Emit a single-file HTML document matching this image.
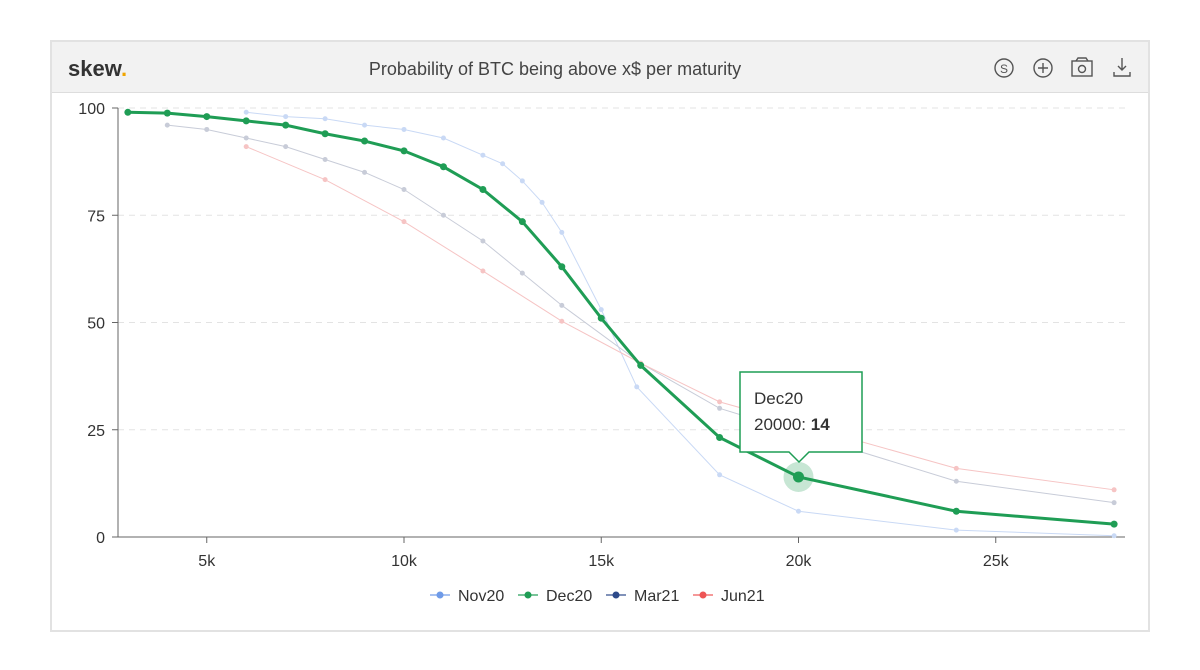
<!DOCTYPE html>
<html><head><meta charset="utf-8"><style>
body{margin:0;background:#fff;width:1200px;height:670px;overflow:hidden;font-family:"Liberation Sans",sans-serif;}
#panel{position:absolute;left:50px;top:40px;width:1096px;height:588px;border:2px solid #e2e2e2;background:#fff;}
#hdr{position:absolute;left:0;top:0;width:1096px;height:50px;background:#f2f2f2;border-bottom:1px solid #ddd;}
</style></head><body>
<div id="panel"><div id="hdr"></div></div>
<svg id="s" width="1200" height="670" style="position:absolute;left:0;top:0" font-family="Liberation Sans, sans-serif">
<text x="68" y="76" font-size="22" font-weight="bold" fill="#333">skew<tspan fill="#f0a500">.</tspan></text>
<text x="555" y="75" font-size="18" fill="#444" text-anchor="middle">Probability of BTC being above x$ per maturity</text>
<g fill="none" stroke="#555" stroke-width="1.4">
<circle cx="1004" cy="68" r="9"/><text x="1004" y="73" font-size="12" text-anchor="middle" fill="#555" stroke="none">S</text>
<circle cx="1043" cy="68" r="9"/><path d="M1038 68h10M1043 63v10"/>
<rect x="1072" y="61" width="20" height="15"/><circle cx="1082" cy="69" r="3.5"/><path d="M1076 61l2-3h8l2 3"/>
<path d="M1122 58v12M1118 66l4 4 4-4M1114 72v4h16v-4"/>
</g>
<g id="grid"></g><g id="series"></g>
</svg>
<script>
const NS="http://www.w3.org/2000/svg",s=document.getElementById('s');
const X=k=>9.5+39.45*k, Y=v=>537-v*4.29;
function el(t,a,p){const e=document.createElementNS(NS,t);for(const k in a)e.setAttribute(k,a[k]);(p||s).appendChild(e);return e;}
const g=document.getElementById('grid');
[0,25,50,75,100].forEach(v=>{
 if(v>0)el('line',{x1:118,x2:1125,y1:Y(v),y2:Y(v),stroke:'#e3e3e3','stroke-dasharray':'6,5'},g);
 el('line',{x1:112,x2:118,y1:Y(v),y2:Y(v),stroke:'#666'},g);
 const t=el('text',{x:105,y:Y(v)+6,'font-size':16,'text-anchor':'end',fill:'#333'},g);t.textContent=v;});
el('line',{x1:118,x2:118,y1:Y(100),y2:537,stroke:'#666'},g);
el('line',{x1:118,x2:1125,y1:537,y2:537,stroke:'#666'},g);
[5,10,15,20,25].forEach(k=>{el('line',{x1:X(k),x2:X(k),y1:537,y2:543,stroke:'#666'},g);
 const t=el('text',{x:X(k),y:566,'font-size':16,'text-anchor':'middle',fill:'#333'},g);t.textContent=k+'k';});
const S=document.getElementById('series');
const data=[
 ['#c9d9f5',1,[[6,99],[7,98],[8,97.5],[9,96],[10,95],[11,93],[12,89],[12.5,87],[13,83],[13.5,78],[14,71],[15,53],[15.9,35],[18,14.5],[20,6],[24,1.6],[28,0.3]]],
 ['#c8ccd8',1,[[4,96],[5,95],[6,93],[7,91],[8,88],[9,85],[10,81],[11,75],[12,69],[13,61.5],[14,54],[16,40.5],[18,30],[24,13],[28,8]]],
 ['#f6c4c4',1,[[6,91],[8,83.3],[10,73.5],[12,62],[14,50.3],[16,40.5],[18,31.5],[24,16],[28,11]]],
 ['#1f9d55',3,[[3,99],[4,98.8],[5,98],[6,97],[7,96],[8,94],[9,92.3],[10,90],[11,86.3],[12,81],[13,73.5],[14,63],[15,51],[16,40],[18,23.2],[20,14],[24,6],[28,3]]]];
data.forEach(([c,w,p])=>{
 el('polyline',{points:p.map(q=>X(q[0])+','+Y(q[1])).join(' '),fill:'none',stroke:c,'stroke-width':w},S);
 p.forEach(q=>el('circle',{cx:X(q[0]),cy:Y(q[1]),r:w>1?3.5:2.5,fill:c},S));});
el('circle',{cx:X(20),cy:Y(14),r:15,fill:'#1f9d55','fill-opacity':0.25},S);
el('circle',{cx:X(20),cy:Y(14),r:5.5,fill:'#1f9d55'},S);
el('path',{d:'M740 372h122v80h-53l-10 10-10-10h-49z',fill:'#fff',stroke:'#1f9d55','stroke-width':1.5},S);
let t=el('text',{x:754,y:404,'font-size':17,fill:'#333'},S);t.textContent='Dec20';
t=el('text',{x:754,y:430,'font-size':17,fill:'#333'},S);t.innerHTML='20000: <tspan font-weight="bold">14</tspan>';
const lg=[['#6f9be8','Nov20',430],['#1f9d55','Dec20',518],['#2d4a8a','Mar21',606],['#ee5555','Jun21',693]];
lg.forEach(([c,n,x])=>{el('line',{x1:x,x2:x+20,y1:595,y2:595,stroke:c,'stroke-width':2,'stroke-opacity':0.6});
 el('circle',{cx:x+10,cy:595,r:3.5,fill:c});
 const tt=el('text',{x:x+28,y:601,'font-size':16,fill:'#333'});tt.textContent=n;});
</script>
</body></html>
